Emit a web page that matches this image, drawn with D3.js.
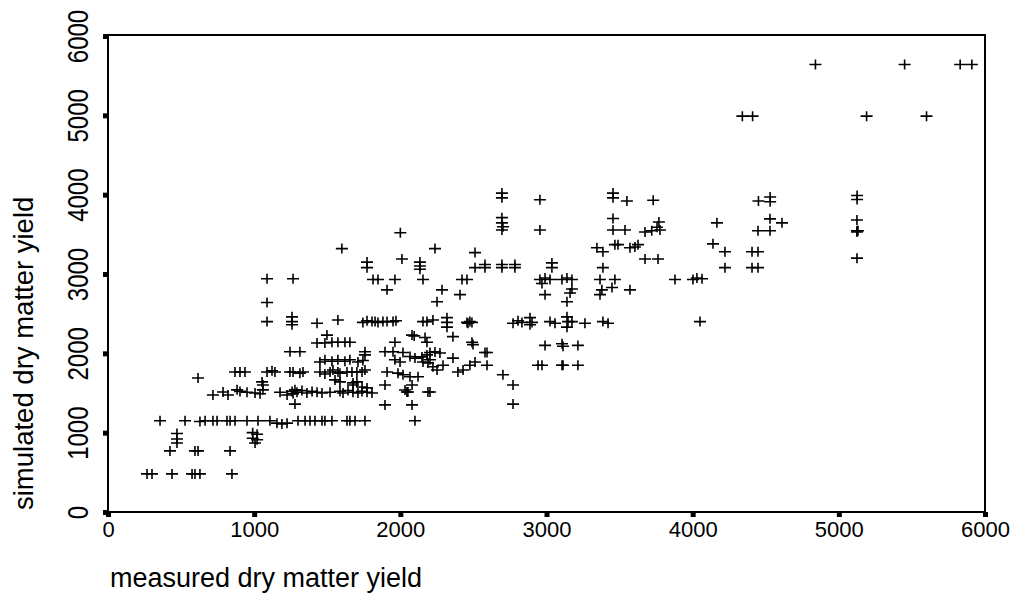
<!DOCTYPE html>
<html>
<head>
<meta charset="utf-8">
<script src="https://d3js.org/d3.v7.min.js"></script>
<style>
  body { margin: 0; background: #fff; }
  text { font-family: "Liberation Sans", Arial, sans-serif; fill: #000; }
</style>
</head>
<body>
<svg id="chart" width="1015" height="597"></svg>
<script>
// measured (x) vs simulated (y) dry matter yield
const measured = [
  4840,5450,5830,5910, 4340,4410,5190,5600,
  2695,2695,2955,3455,3455,3550,3730,4450,4530,4530,5125,5125,
  2695,2695,2702,2695,2955,3455,3455,3537,3674,3720,3756,3769,3776,4166,4447,4529,4529,4611,5124,5124,5124,5131,5124,
  3345,3386,3468,3489,3571,3605,3626,4139,4221,4406,4447,4221,4406,4447,3674,3763,1600,2237,2000,2511,2011,
  1772,1772,2134,2134,2134,2511,2579,2579,2695,2695,2784,2784,3037,3037,3386,
  1088,1266,1813,1847,1963,2155,2422,2456,1909,2285,2251,2408,1088,
  2955,2969,2990,3024,3106,3140,3174,3174,3161,3140,2990,
  3366,3468,3379,3448,3571,3366,3879,4002,4029,4064,
  1088,1259,1259,1259,1430,1573,1744,1772,1806,1827,1847,1881,1909,1950,1970,
  2155,2182,2223,2319,2319,2319,2456,2476,2463,2490,2771,2805,2832,2887,2901,2887,3024,3058,3140,3147,3140,3174,3263,3386,3421,4050,
  2080,2095,2169,2182,2360,2490,2497,2579,1430,1484,1532,1573,1621,1655,1498,1963,2990,3106,3113,3215,
  1245,1313,1758,1758,1895,1963,1998,2018,1950,2066,2100,2148,2182,2203,2237,2271,2203,2155,2189,2223,2251,
  1909,1984,2018,2066,2121,2360,2394,2429,2292,2476,2511,2593,2593,2702,2771,2771,2942,2969,3106,3113,3215,
  1450,1484,1532,1573,1621,1655,1710,1744,
  869,903,937,1088,1122,1142,1245,1266,1313,1334,1450,1484,1519,1539,1573,1587,1635,1669,1703,1738,1758,616,
  1054,1060,1676,1703,1738,1772,1895,2080,2045,2032,2203,1553,1587,1676,2052,2189,
  718,787,821,883,903,951,1006,1040,1060,1177,1225,1259,1279,1266,1293,1327,1361,1396,1430,1464,1519,1587,1608,1642,1676,1710,1738,1772,1806,
  1279,1895,2080,2100,
  356,527,629,664,718,746,814,835,869,951,1026,1108,1156,1190,1225,1300,1348,1382,1416,1464,1484,1532,1635,1655,1690,1758,
  472,472,472,990,1020,990,1020,1006,
  424,595,616,835,
  267,301,438,575,595,629,848
];
const simulated = [
  5640,5640,5640,5640, 4990,4990,4990,4990,
  4020,3960,3935,4020,3960,3920,3930,3920,3970,3910,3990,3940,
  3710,3645,3595,3555,3555,3700,3555,3555,3530,3545,3590,3655,3555,3645,3545,3545,3695,3645,3680,3545,3530,3545,3200,
  3330,3280,3370,3370,3330,3340,3370,3380,3280,3280,3280,3080,3080,3080,3190,3190,3320,3320,3520,3270,3190,
  3150,3080,3150,3100,3060,3080,3120,3080,3120,3080,3120,3080,3140,3080,3080,
  2940,2940,2930,2930,2930,2930,2930,2930,2800,2800,2650,2740,2640,
  2930,2880,2950,2930,2930,2950,2930,2810,2760,2650,2740,
  2930,2930,2800,2830,2800,2740,2930,2930,2950,2940,
  2400,2460,2400,2360,2380,2420,2390,2410,2400,2400,2390,2400,2400,2400,2410,
  2400,2400,2420,2450,2390,2330,2390,2400,2380,2390,2380,2410,2390,2450,2390,2360,2400,2380,2460,2400,2330,2400,2380,2400,2380,2400,
  2230,2220,2200,2140,2210,2140,2110,2010,2130,2130,2140,2140,2140,2140,2230,2140,2100,2120,2090,2100,
  2020,2020,2020,1980,2020,1920,1890,2010,2020,1960,1940,1955,1980,2010,2018,2005,1920,1890,1880,1830,1790,
  1765,1750,1730,1705,1705,1940,1765,1790,1850,1850,1890,2010,1850,1730,1600,1360,1850,1850,1850,1850,1850,
  1890,1920,1900,1920,1900,1920,1890,1910,
  1765,1765,1765,1765,1780,1765,1765,1765,1750,1765,1765,1740,1765,1790,1765,1750,1765,1765,1765,1765,1790,1690,
  1640,1600,1600,1640,1576,1564,1600,1600,1513,1538,1513,1665,1640,1627,1513,1513,
  1475,1513,1475,1540,1520,1510,1500,1490,1540,1510,1475,1520,1540,1490,1510,1530,1500,1520,1510,1500,1510,1520,1500,1530,1510,1500,1520,1510,1500,
  1360,1350,1350,1150,
  1150,1150,1140,1150,1150,1150,1150,1150,1150,1150,1150,1150,1120,1110,1120,1150,1150,1150,1150,1150,1150,1150,1150,1150,1150,1150,
  990,920,870,1000,980,930,910,870,
  770,770,770,770,
  480,480,480,480,480,480,480
];
const xTicks = [0, 1000, 2000, 3000, 4000, 5000, 6000];
const yTicks = [0, 1000, 2000, 3000, 4000, 5000, 6000];

const points = measured.map((m, i) => ({m: m, s: simulated[i]}));

const svg = d3.select("#chart");
const x = d3.scaleLinear().domain([0, 6000]).range([108, 985]);
const y = d3.scaleLinear().domain([0, 6000]).range([512, 36]);

// axes (ticks only, frame drawn as a box)
const gx = svg.append("g").attr("transform", "translate(0,512)")
  .call(d3.axisBottom(x).tickValues(xTicks).tickSizeInner(5).tickSizeOuter(0).tickFormat(d3.format("d")));
gx.select(".domain").remove();
gx.selectAll(".tick line").attr("stroke", "#000").attr("stroke-width", 5);
gx.selectAll(".tick text").attr("font-size", 22).attr("dy", "0.71em").attr("y", 9)
  .attr("font-family", "Liberation Sans, Arial, sans-serif");

const gy = svg.append("g").attr("transform", "translate(108,0)")
  .call(d3.axisLeft(y).tickValues(yTicks).tickSizeInner(5).tickSizeOuter(0).tickFormat(d3.format("d")));
gy.select(".domain").remove();
gy.selectAll(".tick line").attr("stroke", "#000").attr("stroke-width", 5);
gy.selectAll(".tick text")
  .attr("font-size", 24).attr("font-family", "Liberation Sans, Arial, sans-serif")
  .attr("text-anchor", "middle").attr("x", 0).attr("dy", 0)
  .attr("transform", "translate(-20,0) rotate(-90) scale(1,1.25)");

svg.append("rect")
  .attr("x", x(0)).attr("y", y(6000) - 1)
  .attr("width", x(6000) - x(0)).attr("height", y(0) - y(6000) + 1)
  .attr("fill", "none").attr("stroke", "#000").attr("stroke-width", 2);

svg.append("g").selectAll("path").data(points).join("path")
  .attr("d", "M-6,0H6M0,-5V5")
  .attr("transform", d => `translate(${x(d.m)},${y(d.s)})`)
  .attr("stroke", "#000").attr("stroke-width", 1.6).attr("fill", "none");

svg.append("text").attr("x", 110).attr("y", 587)
  .attr("font-size", 27).text("measured dry matter yield");

svg.append("text").attr("transform", "translate(33,510) rotate(-90)")
  .attr("font-size", 27.5).text("simulated dry matter yield");
</script>
</body>
</html>
